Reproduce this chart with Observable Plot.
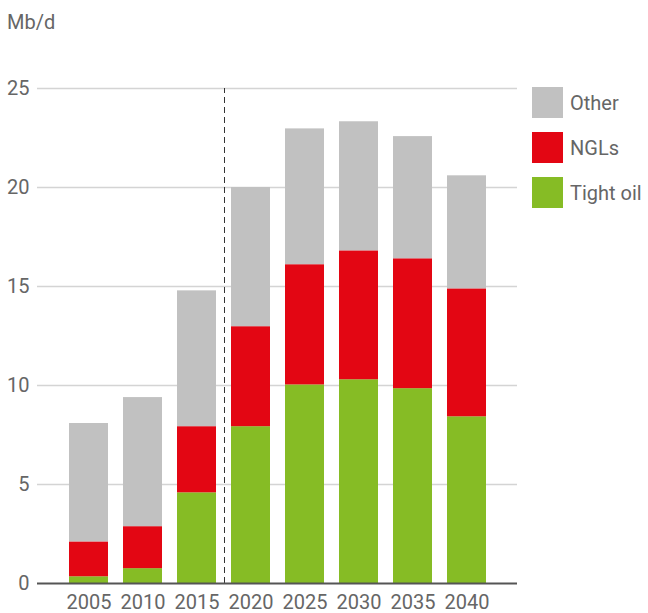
<!DOCTYPE html>
<html>
<head>
<meta charset="utf-8">
<script src="https://cdn.jsdelivr.net/npm/d3@7"></script>
<script src="https://cdn.jsdelivr.net/npm/@observablehq/plot@0.6"></script>
<style>
  body { margin: 0; background: #fff; font-family: Roboto, "Liberation Sans", sans-serif; }
  #wrap { position: relative; width: 648px; height: 613px; }
  #unit { position: absolute; left: 7px; top: 10px; font-size: 20px; color: #666; }
  .leg { position: absolute; left: 532px; display: flex; align-items: center; font-size: 20px; color: #666; }
  .leg span.sw { display: inline-block; width: 31px; height: 31px; margin-right: 7px; }
</style>
</head>
<body>
<div id="wrap"></div>
<script>
const years = ["2005", "2010", "2015", "2020", "2025", "2030", "2035", "2040"];
const series = ["Tight oil", "NGLs", "Other"];
const colors = ["#86bc25", "#e30613", "#c1c1c1"];
const tightOil = [0.34, 0.75, 4.58, 7.92, 10.03, 10.29, 9.84, 8.42];
const ngls =     [1.76, 2.12, 3.34, 5.05, 6.07, 6.51, 6.56, 6.46];
const other =    [5.98, 6.52, 6.86, 7.03, 6.86, 6.52, 6.17, 5.71];
const yTicks = [0, 5, 10, 15, 20, 25];
const unitLabel = "Mb/d";
const dividerYear = "2015";

const values = [tightOil, ngls, other];
const data = [];
series.forEach((s, si) => years.forEach((y, yi) => data.push({year: y, series: s, value: values[si][yi]})));

const chart = Plot.plot({
  width: 648,
  height: 613,
  marginTop: 88,
  marginBottom: 30,
  marginLeft: 37,
  marginRight: 131,
  style: {fontFamily: "Roboto, 'Liberation Sans', sans-serif", fontSize: "20px", color: "#666", background: "#fff"},
  x: {domain: years, paddingInner: 0.28, paddingOuter: 0.58, label: null},
  y: {domain: [0, 25], label: null},
  color: {domain: series, range: colors},
  marks: [
    Plot.ruleY(yTicks.filter(d => d > 0), {stroke: "#d4d4d4", strokeWidth: 1.5}),
    Plot.barY(data, {x: "year", y: "value", fill: "series", order: series}),
    Plot.ruleX([dividerYear], {x: d => d, dx: 27.5, y1: 0, y2: 25, stroke: "#333", strokeWidth: 1, strokeDasharray: "6,4"}),
    Plot.ruleY([0], {stroke: "#555", strokeWidth: 2}),
    Plot.axisY({ticks: yTicks, tickSize: 0, tickPadding: 8, fill: "#666", fontSize: 20, label: null}),
    Plot.axisX({tickSize: 0, tickPadding: 11, fill: "#666", fontSize: 20, label: null})
  ]
});

const wrap = document.getElementById("wrap");
wrap.appendChild(chart);
const unit = document.createElement("div");
unit.id = "unit";
unit.textContent = unitLabel;
wrap.appendChild(unit);
const legendOrder = ["Other", "NGLs", "Tight oil"];
legendOrder.forEach((s, i) => {
  const d = document.createElement("div");
  d.className = "leg";
  d.style.top = (87 + i * 45) + "px";
  const sw = document.createElement("span");
  sw.className = "sw";
  sw.style.background = colors[series.indexOf(s)];
  d.appendChild(sw);
  d.appendChild(document.createTextNode(s));
  wrap.appendChild(d);
});
</script>
</body>
</html>
